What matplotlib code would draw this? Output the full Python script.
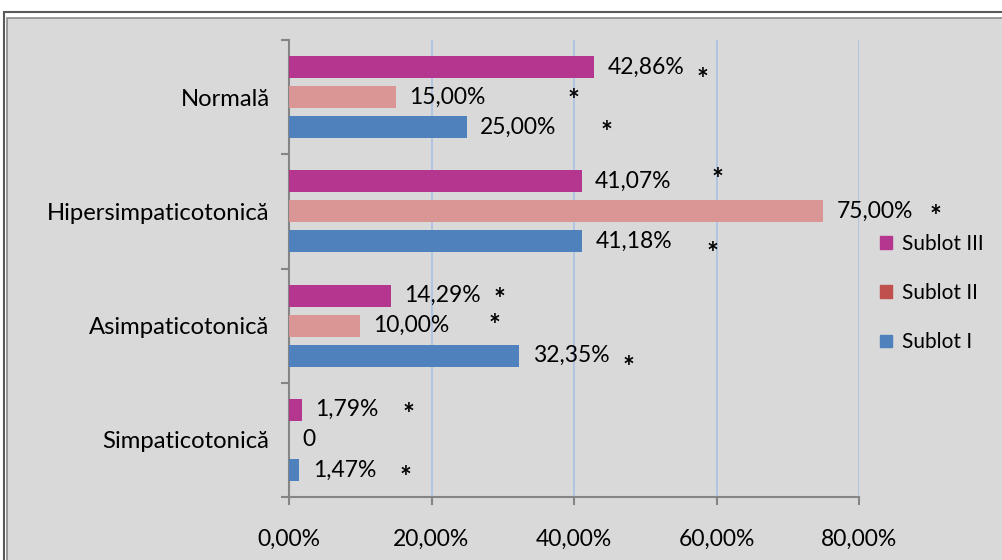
import numpy as np
import matplotlib.pyplot as plt
from matplotlib.patches import Rectangle

# data (top to bottom in the picture)
categories = ['Normală', 'Hipersimpaticotonică', 'Asimpaticotonică', 'Simpaticotonică']
sublot_3 = [42.86, 41.07, 14.29, 1.79]
sublot_2 = [15.00, 75.00, 10.00, 0.00]
sublot_1 = [25.00, 41.18, 32.35, 1.47]
series_names = ['Sublot III', 'Sublot II', 'Sublot I']

# x position (in %) of the significance asterisks, same order as above
star_3 = [58.0, 60.2, 29.6, 16.8]
star_2 = [39.9, 90.7, 28.8, None]
star_1 = [44.5, 59.4, 47.7, 16.4]

# colours
c_magenta = '#b5368f'
c_pink = '#d99694'
c_blue = '#4f81bd'
c_legend_red = '#c0504d'
bg = '#d9d9d9'
grid_col = '#a9c1e3'
axis_col = '#858585'

fs = 16.5
plt.rcParams['font.family'] = ['Lato', 'DejaVu Sans']

fig = plt.figure(figsize=(10.03, 5.6), dpi=100)
fig.patch.set_facecolor('white')

# outer frame (cropped at right / bottom like the original)
fig.patches.append(Rectangle((4/1003, -0.1), 1.2, (560-12)/560 + 0.1, transform=fig.transFigure,
                             facecolor='none', edgecolor='#5a5a5a', lw=1.5, zorder=-2))
fig.patches.append(Rectangle((7.5/1003, -0.1), 1.2, (560-18)/560 + 0.1, transform=fig.transFigure,
                             facecolor=bg, edgecolor='#8c8c8c', lw=1.2, zorder=-1))

ax = fig.add_axes([289/1003, 1-497/560, (859-289)/1003, (497-40)/560])
ax.set_facecolor('none')
ax.set_zorder(2)

n = len(categories)
ypos = np.arange(n)[::-1]  # Normală on top
off = 0.263
h = 0.193

series = [(sublot_3, c_magenta, +off, star_3),
          (sublot_2, c_pink, 0.0, star_2),
          (sublot_1, c_blue, -off, star_1)]

# vertical offsets (points) of the asterisks relative to the bar centre
star_dy = [[-5, 5, 1, 0], [1, 0, 4, 0], [0, -5, -5, -2]]

for k, (vals, col, dy, stars) in enumerate(series):
    ax.barh(ypos + dy, vals, height=h, color=col, zorder=3)
    for i, v in enumerate(vals):
        txt = '0' if v == 0 else ('%.2f%%' % v).replace('.', ',')
        ax.annotate(txt, (v, ypos[i] + dy), xytext=(9.5, 0), textcoords='offset points',
                    va='center', ha='left', fontsize=fs, color='black', zorder=4)
        if stars[i] is not None:
            ax.annotate('*', (stars[i], ypos[i] + dy), xytext=(0, star_dy[k][i] - 4),
                        textcoords='offset points', va='center', ha='center',
                        fontsize=20, fontweight='bold', color='black',
                        annotation_clip=False, zorder=4)

ax.set_xlim(0, 80)
ax.set_ylim(-0.5, n - 0.5)

# grid
for gx in [20, 40, 60, 80]:
    ax.axvline(gx, color=grid_col, lw=1.2, zorder=1)

for s in ['top', 'right']:
    ax.spines[s].set_visible(False)
for s in ['left', 'bottom']:
    ax.spines[s].set_color(axis_col)
    ax.spines[s].set_linewidth(1.5)

ax.set_xticks([0, 20, 40, 60, 80])
ax.set_xticklabels(['0,00%', '20,00%', '40,00%', '60,00%', '80,00%'], fontsize=fs)
ax.tick_params(axis='x', direction='out', length=6, width=1.5, color=axis_col, pad=17)

ax.set_yticks(np.arange(-0.5, n, 1.0), minor=False)
ax.set_yticklabels([])
ax.set_yticks(ypos, minor=True)
ax.set_yticklabels(categories, minor=True, fontsize=17.2)
ax.tick_params(axis='y', which='major', direction='out', length=6, width=1.5, color=axis_col)
ax.tick_params(axis='y', which='minor', length=0, pad=14)

# legend
handles = [Rectangle((0, 0), 1, 1, color=c) for c in [c_magenta, c_legend_red, c_blue]]
leg = fig.legend(handles, series_names, loc='center left', bbox_to_anchor=(872/1003, 1-293/560),
                 frameon=False, fontsize=15, handlelength=0.55, handleheight=0.55,
                 handletextpad=0.5, labelspacing=1.4, borderaxespad=0)

fig.savefig('out.png', dpi=100, facecolor=fig.get_facecolor())
